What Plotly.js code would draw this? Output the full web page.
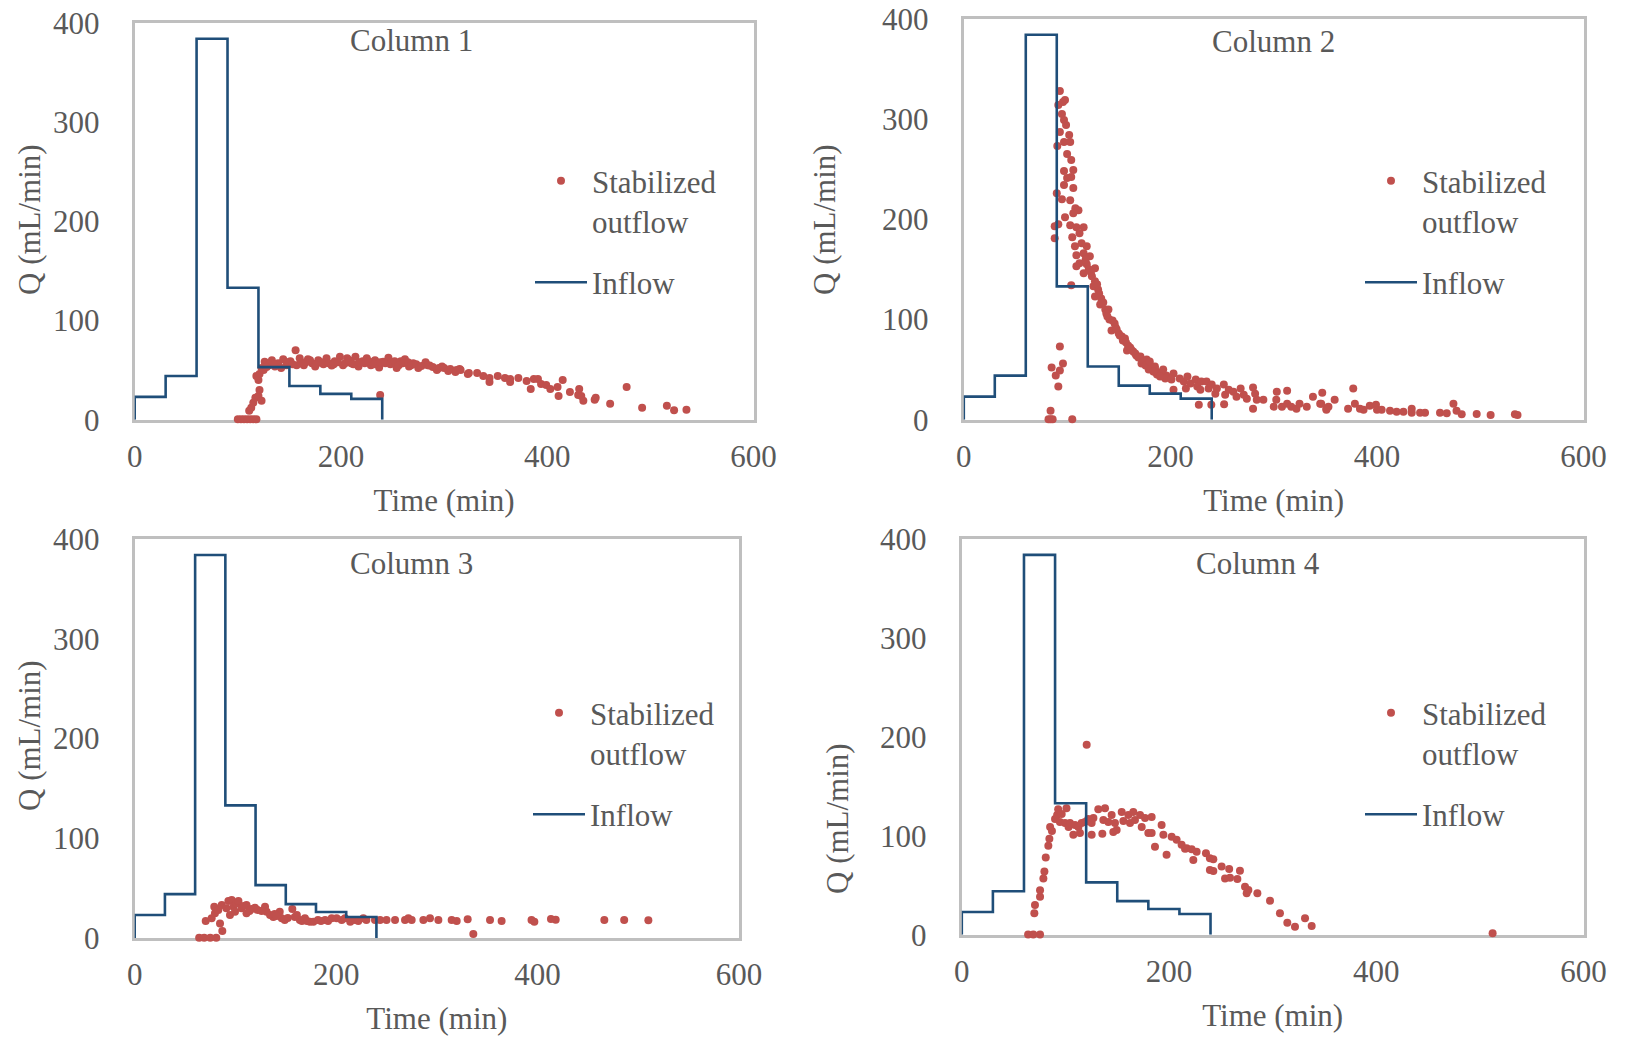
<!DOCTYPE html>
<html>
<head>
<meta charset="utf-8">
<script src="https://cdn.plot.ly/plotly-3.0.1.min.js"></script>
<style>html,body{margin:0;padding:0;background:#fff;}#chart{width:1625px;height:1039px;}</style>
</head>
<body>
<div id="chart"></div>
<script>
// ---------------- DATA ----------------
const panelTitles = ["Column 1", "Column 2", "Column 3", "Column 4"];
const xTicks = [0, 200, 400, 600];
const yTicks = [0, 100, 200, 300, 400];
const seriesNames = ["Stabilized<br>outflow", "Inflow"];

// Inflow hydrograph (step function, same for all columns)
const inflowT = [0, 0, 30, 60, 90, 120, 150, 180, 210, 240];
const inflowQ = [0, 23, 44, 384, 133, 53, 34, 26, 21, 0];

// Column 1 stabilized outflow
const col1T = [100,103,106,109,112,115,118,111,113,115,117,120,123,121,120,118,121,123,125,127,
  126,130,133,136,139,144,147,151,156,157,160,164,168,172,175,178,183,186,191,194,199,202,206,210,214,217,221,225,229,233,237,241,246,251,254,258,262,266,270,275,282,286,293,298,304,311,315,324,
  128,135,142,148,153,161,166,170,176,181,188,193,197,204,208,212,218,223,227,232,238,243,248,252,256,260,265,268,273,278,284,289,295,300,306,312,
  238,
  316,323,332,338,344,344,352,359,364,364,372,380,384,387,391,394,399,403,410,411,415,422,430,431,433,435,446,447,461,477,492,516,523,535];
const col1Q = [0.5,0.5,0.5,0.5,0.5,0.5,0.5,9,12,17,22,24,19,30,40,44,46,52,50,54,
  58.5,55,60,53.5,57,61,55,59,70,55,62,55,61,57,53.5,60,56,62,54.5,59,63.5,55,62,57,63.5,53.5,59,62,55,60,52.5,58.5,62.5,57,52,59,61,53.5,57,52,58,54.5,50,53.5,49,48,51,47,
  53,56,52,58,56,57,58,60,56,58,57,56,58,57,60,56,58,57,59,56,58,57,56,59,55,57,58,55,56,54,55,53,52,52,51,50,
  25,
  50,46,47,44,42,38,44,42,41,38,42,39,31,41,41,36,35,31,33,24,40,28,25,31,24,19,20,22,16,33,12,14,9.5,10];

// Column 2 stabilized outflow
const col2T = [82,84,86,84,85,89,91.5,93,93,96,105,
  93,91.5,96,98,95,97,99,93,102,97,103,90.5,100,104,97,106,100,104,97,106,90,95,103,108,111,98,106,88,91.5,103,109,116,88,105,112,114,119,107.6,109,116,122,112,109,119,127,116,124,127,104,125.5,130,127,133,132,137,140,141,146,143,150,153,156,159,158,164,167,171,177,172,180,179,185,187,
  118,121,123,129,131,135,138,139,144,147,148,151,154,157,161,162,166,169,174,176,182,184,189,192,196,
  180,185,183.5,193,195,190,203,201,203,209,213,215,216.5,219.5,224.5,226,229,230,235,237,240,227.5,239.6,243.5,245,251.7,253,252,256.5,261,264,268,271,274,280,282,280,283.6,290,300,303,302.5,308,313,313,317,322,325,332,338,345,347,351,
  346,353,351,359,377,372,378.6,383.5,387,393,399,400,404.5,412.6,419,425.6,433.6,433.6,441.7,446.5,461,467.5,474,477,482,496.5,510,533.5,536];
const col2Q = [0.5,0.5,0.5,9,52,44,33,49,73,56,0.5,
  328,314,317,319,305,299,294,287,284,277,277,273,265,259,248,249,241,242,234,231,226,220,219,211,209,202,206,193,195,194,192,192,181,182,186,176,173,173,164,166,163,156,153,155,151,146,143,138,134,133,130,123,121,115,110,110,100,96,89,86,83,81,74,69,68,64,63,60,56,55,50,51,45,
  160,150,147,135,126,117,106,103,99,92,90,84,79,77,72,70,66,62,58,54,52,48,47,46,44,
  58,53,48,50,41,43,46,40,30,41,38,31,43,36,40,33,30,38,38,31,35,15,15,26,31,35,25,15.5,30,28,23,31,25,21,32,26,11,20,20,13,28,20,13,29,16,13,11,16,13,23,16,27,11,
  16,13,10,20,31,11,16,11,10,14,15,10,10,9,8,8,11,7,7,7,7,6.4,16,9,5.4,5.6,4.7,5.4,4.7];

// Column 3 stabilized outflow
const col3T = [64,69,75,81,70.5,87,84.7,76.4,79.7,79,83,86.4,91,93,96.3,98,101,103,94.6,99.6,106,111,111,116,119.4,129.4,131,134.4,137.6,144,146,149,156.5,159,164,169,174,177.4,182,189,195.6,200.5,205.5,208.8,214,218.7,227,230,238.6,243.6,250,258.5,268.4,271.7,275,286.6,293.2,301.5,314.7,319.7,330.6,336.2,352.8,364.3,394,396.8,413.3,418,466.3,486,510,
  108,114,122,126,139,141,152,161,166,171,185,192,222];
const col3Q = [0.3,0.3,0.3,0.3,17,7,14.6,19.7,24.7,31.4,28,33,29.8,37,38,31.4,34.8,37,23,26.4,29.8,33,24.7,29,30.4,31.4,26.4,23,21,26.4,19.7,18,29,21,18,19.7,16.4,16.4,18,18,19.7,19.7,18,19.7,16.4,18,19.7,18,18,18,18,18,18,19.7,18,18,19.7,18,18,17,18.7,4,18,17,18,16.4,19,18.4,18,18,17.7,
  32,27,28,27,24,22,20,23,17,17,17,17,17];

// Column 4 stabilized outflow
const col4T = [64,69,75.5,70,70.6,75.5,75.5,78.7,79.7,81,83.5,84.5,85.2,87,90,92,93,94.7,96.4,101,99.6,103,104.4,107.6,109.2,112.5,114,115.6,118.8,120.5,122,125.3,125.3,127,131.7,135.6,138.2,136.6,141.4,144.6,146.2,147.8,149.4,154.3,155.9,160.7,162.3,165.5,167.1,172,173.6,176.8,180,183.2,183.2,186.4,192.8,194.5,197.6,202.5,207.3,212.1,215.4,
  217,221.8,226.6,223.4,235.6,239.4,242.7,239.4,242.7,250.7,258,254,258.8,265.9,268.4,273.3,276.5,274.9,285.2,297.4,307,314.1,321.5,331.2,337.6,512.2];
const col4Q = [0.3,0.3,0.3,21.7,30,38.5,45,57,64,78,90,97,109,105,117,121,127,114,122,128,113,109,113,101,111,109,103,113,114,192,117,113,101,118,127,102,128,116,114,121,104,113,106,124,115,121,113,124,116,121,109,118,103,103,119,89,111,101,81,99,96,91,87,
  87.4,86.4,84,75.6,82.4,77.3,76.3,65.5,64.5,68.9,66.5,57,57.7,56.4,64.8,48.6,45.3,41.9,41.9,34.5,21.7,12.3,8.2,16.6,8.9,1.5];

const outflowT = [col1T, col2T, col3T, col4T];
const outflowQ = [col1Q, col2Q, col3Q, col4Q];

// ---------------- STYLE / LAYOUT ----------------
const W = 1625, H = 1039;
const FONT = "Liberation Serif, Times New Roman, serif";
const GRAY = "#595959";
const RED = "#C0504D";
const BLUE = "#1F4E79";
const FS = 31;

// pixel boxes of the four plot areas: [left, right, top, bottom]
const boxes = [
  [134.7, 753.5, 22.8, 419.7],
  [963.8, 1583.6, 18.7, 419.7],
  [134.7, 739.0, 539.0, 938.0],
  [961.8, 1583.6, 539.0, 934.8]
];
const titlePos = [[411, 41], [1273.7, 41.5], [411, 563.8], [1258, 563.8]];
const yTitlePos = [[29, 220], [824, 220], [29, 736], [837, 819]];
const legendPos = [[530, 154], [1360, 154], [528, 686], [1360, 686]];

const traces = [];
const layout = {
  width: W, height: H,
  margin: {l: 0, r: 0, t: 0, b: 0},
  paper_bgcolor: "#fff", plot_bgcolor: "#fff",
  font: {family: FONT, size: FS, color: GRAY},
  showlegend: true,
  annotations: []
};

for (let i = 0; i < 4; i++) {
  const sfx = i === 0 ? "" : String(i + 1);
  const b = boxes[i];
  const legName = "legend" + sfx;
  traces.push({
    type: "scatter", mode: "markers",
    x: outflowT[i], y: outflowQ[i],
    xaxis: "x" + sfx, yaxis: "y" + sfx,
    name: seriesNames[0], legend: legName, legendgroup: "out" + i,
    marker: {color: RED, size: 8},
    cliponaxis: false, hoverinfo: "skip"
  });
  traces.push({
    type: "scatter", mode: "lines",
    x: inflowT, y: inflowQ,
    xaxis: "x" + sfx, yaxis: "y" + sfx,
    name: seriesNames[1], legend: legName, legendgroup: "in" + i,
    line: {color: BLUE, width: 2.6, shape: "hv"},
    cliponaxis: false, hoverinfo: "skip"
  });
  layout["xaxis" + sfx] = {
    domain: [b[0] / W, b[1] / W],
    anchor: "y" + sfx,
    range: [0, 600], tickvals: xTicks, ticks: "",
    showgrid: false, zeroline: false,
    showline: true, mirror: true, linecolor: "#BFBFBF", linewidth: 3,
    layer: "below traces",
    ticklabelstandoff: 7,
    tickfont: {family: FONT, size: FS, color: GRAY},
    title: {text: "Time (min)", font: {family: FONT, size: FS, color: GRAY}, standoff: 17}
  };
  layout["yaxis" + sfx] = {
    domain: [1 - b[3] / H, 1 - b[2] / H],
    anchor: "x" + sfx,
    range: [0, 400], tickvals: yTicks, ticks: "",
    showgrid: false, zeroline: false,
    showline: true, mirror: true, linecolor: "#BFBFBF", linewidth: 3,
    layer: "below traces",
    ticklabelstandoff: 26,
    tickfont: {family: FONT, size: FS, color: GRAY}
  };
  layout[legName] = {
    x: legendPos[i][0] / W, y: 1 - legendPos[i][1] / H,
    xanchor: "left", yanchor: "top",
    bgcolor: "rgba(0,0,0,0)", borderwidth: 0,
    font: {family: FONT, size: FS, color: GRAY},
    valign: "top", itemwidth: 52, tracegroupgap: 18,
    itemclick: false, itemdoubleclick: false
  };
  layout.annotations.push({
    xref: "paper", yref: "paper",
    x: titlePos[i][0] / W, y: 1 - titlePos[i][1] / H,
    xanchor: "center", yanchor: "middle",
    text: panelTitles[i], showarrow: false,
    font: {family: FONT, size: FS, color: GRAY}
  });
  layout.annotations.push({
    xref: "paper", yref: "paper",
    x: yTitlePos[i][0] / W, y: 1 - yTitlePos[i][1] / H,
    xanchor: "center", yanchor: "middle",
    text: "Q (mL/min)", textangle: -90, showarrow: false,
    font: {family: FONT, size: FS, color: GRAY}
  });
}

Plotly.newPlot("chart", traces, layout, {displayModeBar: false, staticPlot: true});
</script>
</body>
</html>
